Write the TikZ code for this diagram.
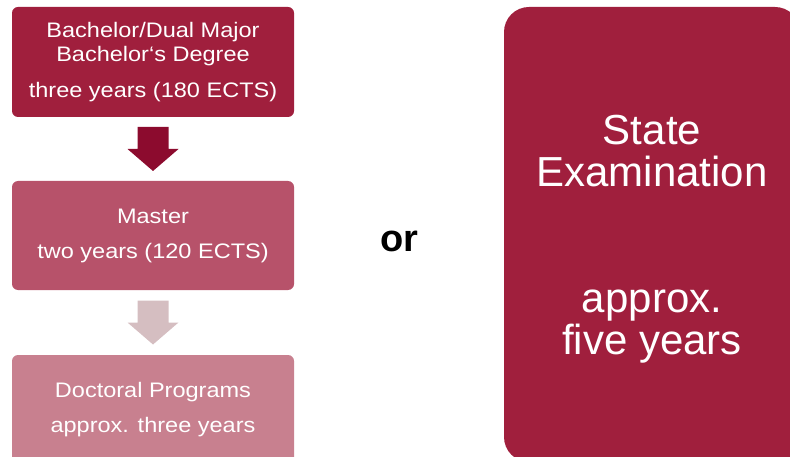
\documentclass[tikz,border=0pt]{standalone}
\usepackage{fontspec}
\setmainfont{Liberation Sans}
\newfontfamily\widesans[FakeStretch=1.12]{Liberation Sans}
\usetikzlibrary{calc}
\definecolor{unired}{RGB}{160,31,61}
\definecolor{arrowdark}{RGB}{140,11,46}
\definecolor{mastercol}{RGB}{183,82,106}
\definecolor{doccol}{RGB}{200,128,143}
\definecolor{arrowlight}{RGB}{213,190,193}
% block arrow between two stacked boxes #1 and #2
\newcommand{\stagearrow}[3]{%
  \coordinate (#1-#2) at ($(#1.south)!0.5!(#2.north)$);
  \fill[#3] ($(#1-#2)+(-15.5,-22)$) -- ($(#1-#2)+(15.5,-22)$) -- ($(#1-#2)+(15.5,0)$) -- ($(#1-#2)+(25.5,0)$)
    -- ($(#1-#2)+(0,22)$) -- ($(#1-#2)+(-25.5,0)$) -- ($(#1-#2)+(-15.5,0)$) -- cycle;}

\begin{document}
\begin{tikzpicture}[x=1pt, y=-1pt,
  stage/.style={rectangle, rounded corners=6pt, minimum width=282pt, minimum height=110pt,
    inner sep=0pt, text=white, align=center, font=\widesans\fontsize{21}{24}\selectfont}]
	\useasboundingbox (0,0) rectangle (790,457);
	\clip (0,0) rectangle (790,457);
	\node[stage, fill=unired] (bachelor) at (153,62) {Bachelor/Dual Major\\Bachelor‘s Degree\\[12pt]three years (180 ECTS)};
	\node[stage, fill=mastercol, minimum height=109pt] (master) at (153,235.5) {Master\\[11pt]two years (120 ECTS)};
	\node[stage, fill=doccol] (doctor) at (153,410) {Doctoral Programs\\[11pt]approx. three years};
	\stagearrow{bachelor}{master}{arrowdark}
	\stagearrow{master}{doctor}{arrowlight}
	\node[font=\bfseries\fontsize{38}{38}\selectfont] (ortext) at (399,241.5) {or};%middle
	\node[rectangle, rounded corners=25pt, fill=unired, minimum width=296pt, minimum height=455pt, inner sep=0pt] (exam) at (652,234.5) {};
	\node[text=white, align=center, font=\fontsize{42}{42}\selectfont] (examtext) at ([yshift=-4.3pt]exam.center) {State\\Examination\\[84pt]approx.\\five years};
\end{tikzpicture}
\end{document}
